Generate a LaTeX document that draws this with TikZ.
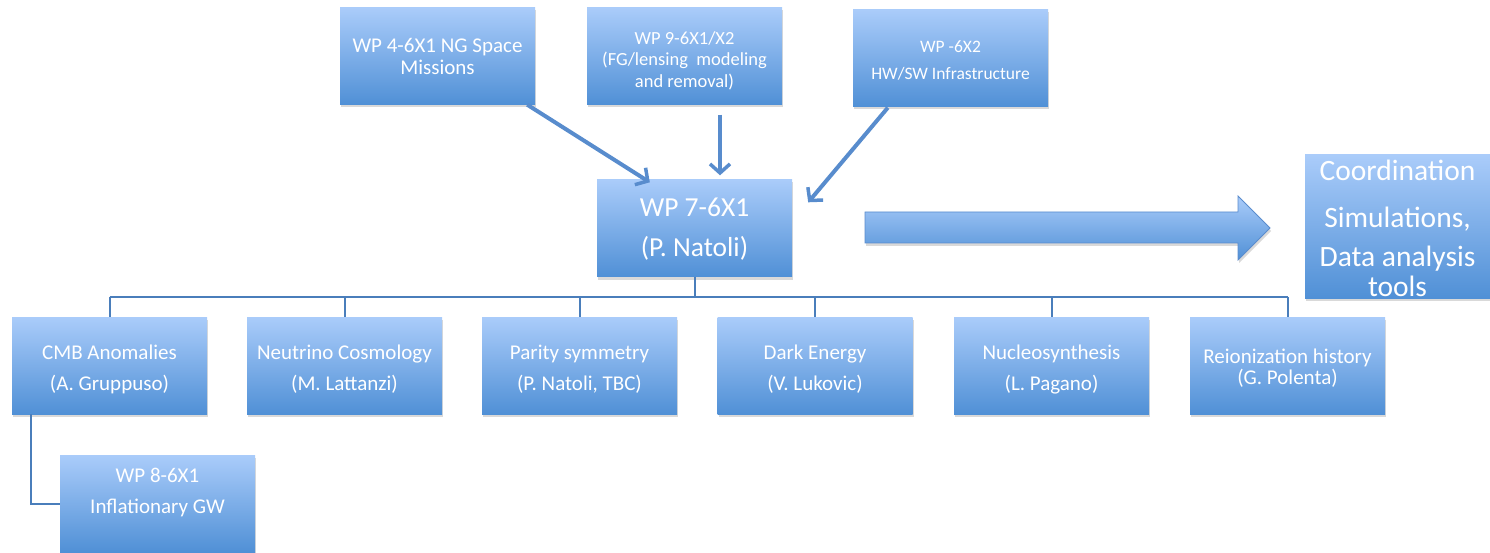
\documentclass[tikz,border=0pt]{standalone}
\usepackage{fontspec}
\setmainfont{Carlito}
\usetikzlibrary{shadows,arrows.meta,calc}
\definecolor{boxtop}{RGB}{170,204,250}
\definecolor{boxbot}{RGB}{80,144,214}
\definecolor{linec}{RGB}{74,126,187}
\definecolor{arrc}{RGB}{88,140,205}
\definecolor{arredge}{RGB}{90,140,205}
\newcommand{\topstrut}[1]{\rule{0pt}{#1}}
\begin{document}
\begin{tikzpicture}[x=1pt,y=-1pt,
  box/.style={rectangle, minimum width=195pt, minimum height=97pt, inner sep=0pt,
    top color=boxtop, bottom color=boxbot, text=white, align=center,
    drop shadow={shadow xshift=1pt,shadow yshift=-3pt,opacity=0.3}},
  txt/.style={text=white, align=center, inner sep=0pt},
  conn/.style={draw=linec, line width=2pt},
  feed/.style={draw=arrc, line width=4pt, -{Straight Barb[length=9pt,width=20pt,line width=3.5pt]}}]
\useasboundingbox (0,0) rectangle (1490,553);
% top boxes
\node[box, font=\fontsize{21}{22}\selectfont] (wp4) at (437.5,56) {WP 4-6X1 NG Space\\Missions};
\node[box, font=\fontsize{18.5}{21.5}\selectfont] (wp9) at (684.5,56) {\topstrut{22pt}WP 9-6X1/X2\\(FG/lensing~ modeling\\and removal)};
\node[box, font=\fontsize{17.5}{27}\selectfont] (wp6) at (950.5,58) {\topstrut{16pt}WP -6X2\\HW/SW Infrastructure};
% central
\node[box, font=\fontsize{27.5}{40}\selectfont] (wp7) at (694.5,228) {\topstrut{21pt}WP 7-6X1\\(P. Natoli)};
% coordination
\node[box, minimum width=185pt, minimum height=143pt, font=\fontsize{29.5}{30}\selectfont] (coord) at (1397.5,226.5)
  {\topstrut{24pt}Coordination\\[17pt]Simulations,\\[9pt]Data analysis\\tools};
% big arrow
\shade[top color=boxtop, bottom color=boxbot, draw=arredge, line width=0.8pt,
  drop shadow={shadow xshift=1pt,shadow yshift=-3pt,opacity=0.3}]
  (865,212) -- (1238,212) -- (1238,196) -- (1270,228) -- (1238,260) -- (1238,243) -- (865,243) -- cycle;
% bottom row
\node[box, font=\fontsize{21}{31}\selectfont] (cmb) at (109.5,365.5) {\topstrut{22pt}CMB Anomalies\\(A. Gruppuso)};
\node[box, font=\fontsize{21}{31}\selectfont] (neu) at (344.5,365.5) {\topstrut{22pt}Neutrino Cosmology\\(M. Lattanzi)};
\node[box, font=\fontsize{21}{31}\selectfont] (par) at (579.5,365.5) {\topstrut{22pt}Parity symmetry\\(P. Natoli, TBC)};
\node[box, font=\fontsize{21}{31}\selectfont] (dark) at (815,365.5) {\topstrut{22pt}Dark Energy\\(V. Lukovic)};
\node[box, font=\fontsize{21}{31}\selectfont] (nuc) at (1051.5,365.5) {\topstrut{22pt}Nucleosynthesis\\(L. Pagano)};
\node[box, font=\fontsize{21}{21}\selectfont] (rei) at (1287.5,365.5) {\topstrut{20pt}Reionization history\\(G. Polenta)};
% WP8
\node[box] (wp8) at (157.5,503.5) {};
\node[txt, font=\fontsize{21}{31}\selectfont] (wp8t) at (157.5,493) {WP 8-6X1\\Inflationary GW};
% bus
\coordinate (bus) at (0,297);
\draw[conn] (wp7.south) -- (wp7.south |- bus);
\draw[conn] (cmb.north |- bus) -- (rei.north |- bus);
\foreach \n in {cmb,neu,par,dark,nuc,rei}{
  \draw[conn] (\n.north |- bus) -- (\n.north);
}
\coordinate (cmbdrop) at ($(cmb.south west)+(19,0)$);
\draw[conn] (cmbdrop) |- (wp8.west);
% feeding arrows
\draw[feed] ($(wp4.south east)+(-8,0)$) -- ($(wp7.north west)+(53,3)$);
\draw[feed] ($(wp9.south)+(35.5,10)$) -- ($(wp7.north)+(25.5,-4)$);
\draw[feed] ($(wp6.south west)+(35,1)$) -- ($(wp7.north east)+(16,23)$);
\end{tikzpicture}
\end{document}
